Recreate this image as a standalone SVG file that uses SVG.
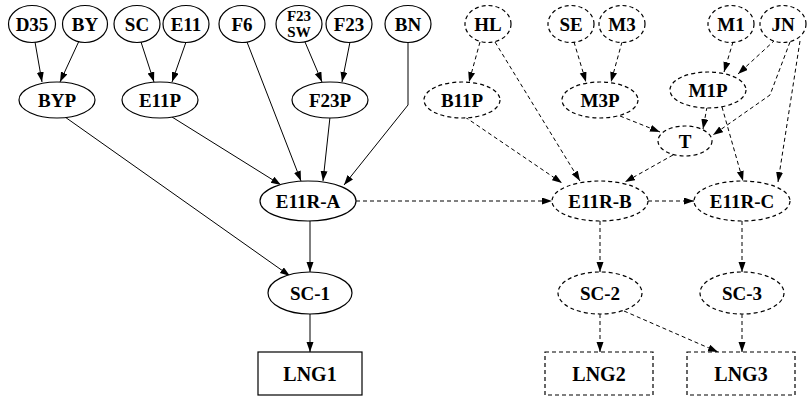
<svg xmlns="http://www.w3.org/2000/svg" width="810" height="401" viewBox="0 0 810 401">
<style>
.n ellipse,.n rect{fill:#fff;stroke:#000;stroke-width:1.2}
.d ellipse,.d rect{stroke-dasharray:4,3}
text{font-family:"Liberation Serif","Times New Roman",serif;font-weight:bold;font-size:19px;text-anchor:middle;fill:#000}
.e path{fill:none;stroke:#000;stroke-width:1}
.e .ds{stroke-dasharray:4,3}
</style>
<defs>
<marker id="a" markerUnits="userSpaceOnUse" markerWidth="10" markerHeight="8" refX="10" refY="3.5" orient="auto"><path d="M0,0 L10,3.5 L0,7 z" fill="#000"/></marker>
</defs>
<g class="e" id="edges">
<path d="M35,42 L42,82" marker-end="url(#a)"/>
<path d="M79,41 L60,82" marker-end="url(#a)"/>
<path d="M141,42 L154,82" marker-end="url(#a)"/>
<path d="M186,42 L172,82" marker-end="url(#a)"/>
<path d="M247,42 L301,181" marker-end="url(#a)"/>
<path d="M305,42 L322,82" marker-end="url(#a)"/>
<path d="M350,42 L342,82" marker-end="url(#a)"/>
<path d="M408,43 L408,105 L344,185" marker-end="url(#a)"/>
<path d="M65,117 L290,276" marker-end="url(#a)"/>
<path d="M172,117 L281,185" marker-end="url(#a)"/>
<path d="M330,117 L323,181" marker-end="url(#a)"/>
<path d="M310,221 L310,272" marker-end="url(#a)"/>
<path d="M310,314 L310,352" marker-end="url(#a)"/>
<path class="ds" d="M356,201 L552,201" marker-end="url(#a)"/>
<path class="ds" d="M480,42 L469,82" marker-end="url(#a)"/>
<path class="ds" d="M495,42 L580,181" marker-end="url(#a)"/>
<path class="ds" d="M465,117 L562,183" marker-end="url(#a)"/>
<path class="ds" d="M574,42 L586,82" marker-end="url(#a)"/>
<path class="ds" d="M622,42 L611,82" marker-end="url(#a)"/>
<path class="ds" d="M620,116 L660,132" marker-end="url(#a)"/>
<path class="ds" d="M673,155 L625,182" marker-end="url(#a)"/>
<path class="ds" d="M733,42 L724,72" marker-end="url(#a)"/>
<path class="ds" d="M775,40 L738,74" marker-end="url(#a)"/>
<path class="ds" d="M790,42 L770,95 L713,135" marker-end="url(#a)"/>
<path class="ds" d="M800,41 L778,182" marker-end="url(#a)"/>
<path class="ds" d="M707,107 L703,129" marker-end="url(#a)"/>
<path class="ds" d="M722,107 L743,181" marker-end="url(#a)"/>
<path class="ds" d="M648,201 L694,201" marker-end="url(#a)"/>
<path class="ds" d="M600,221 L600,272" marker-end="url(#a)"/>
<path class="ds" d="M742,221 L742,272" marker-end="url(#a)"/>
<path class="ds" d="M600,314 L600,352" marker-end="url(#a)"/>
<path class="ds" d="M624,311 L718,352" marker-end="url(#a)"/>
<path class="ds" d="M742,314 L742,352" marker-end="url(#a)"/>
</g>
<g id="D35" class="n"><ellipse cx="32" cy="24" rx="23.5" ry="18.5"/><text x="32" y="31">D35</text></g>
<g id="BY" class="n"><ellipse cx="85" cy="24" rx="22.5" ry="18.5"/><text x="85" y="31">BY</text></g>
<g id="SC" class="n"><ellipse cx="137" cy="24" rx="23" ry="18.5"/><text x="137" y="31">SC</text></g>
<g id="E11" class="n"><ellipse cx="186" cy="24" rx="23" ry="18.5"/><text x="186" y="31">E11</text></g>
<g id="F6" class="n"><ellipse cx="242" cy="24" rx="23" ry="18.5"/><text x="242" y="31">F6</text></g>
<g id="F23SW" class="n"><ellipse cx="299" cy="24" rx="23" ry="18.5"/><text x="299" y="21" style="font-size:15px">F23</text><text x="299" y="37" style="font-size:15px">SW</text></g>
<g id="F23" class="n"><ellipse cx="349" cy="24" rx="23" ry="18.5"/><text x="349" y="31">F23</text></g>
<g id="BN" class="n"><ellipse cx="408" cy="24" rx="23" ry="18.5"/><text x="408" y="31">BN</text></g>
<g id="HL" class="n d"><ellipse cx="488" cy="24" rx="23" ry="18.5"/><text x="488" y="31">HL</text></g>
<g id="SE" class="n d"><ellipse cx="571" cy="24" rx="23" ry="18.5"/><text x="571" y="31">SE</text></g>
<g id="M3" class="n d"><ellipse cx="622" cy="24" rx="23" ry="18.5"/><text x="622" y="31">M3</text></g>
<g id="M1" class="n d"><ellipse cx="731" cy="24" rx="23" ry="18.5"/><text x="731" y="31">M1</text></g>
<g id="JN" class="n d"><ellipse cx="783" cy="24" rx="23" ry="18.5"/><text x="783" y="31">JN</text></g>
<g id="BYP" class="n"><ellipse cx="57" cy="100" rx="38" ry="18"/><text x="57" y="107">BYP</text></g>
<g id="E11P" class="n"><ellipse cx="160" cy="100" rx="38" ry="18"/><text x="160" y="107">E11P</text></g>
<g id="F23P" class="n"><ellipse cx="330" cy="100" rx="38" ry="18"/><text x="330" y="107">F23P</text></g>
<g id="B11P" class="n d"><ellipse cx="462" cy="100" rx="38" ry="18"/><text x="462" y="107">B11P</text></g>
<g id="M3P" class="n d"><ellipse cx="600" cy="100" rx="38" ry="18"/><text x="600" y="107">M3P</text></g>
<g id="M1P" class="n d"><ellipse cx="708" cy="90" rx="38" ry="18"/><text x="708" y="97">M1P</text></g>
<g id="T" class="n d"><ellipse cx="685" cy="141" rx="27" ry="15"/><text x="685" y="148">T</text></g>
<g id="E11R-A" class="n"><ellipse cx="308" cy="201" rx="48" ry="20"/><text x="308" y="208">E11R-A</text></g>
<g id="E11R-B" class="n d"><ellipse cx="600" cy="201" rx="48" ry="20"/><text x="600" y="208">E11R-B</text></g>
<g id="E11R-C" class="n d"><ellipse cx="742" cy="201" rx="48" ry="20"/><text x="742" y="208">E11R-C</text></g>
<g id="SC-1" class="n"><ellipse cx="310" cy="293" rx="42" ry="21"/><text x="310" y="300">SC-1</text></g>
<g id="SC-2" class="n d"><ellipse cx="600" cy="293" rx="42" ry="21"/><text x="600" y="300">SC-2</text></g>
<g id="SC-3" class="n d"><ellipse cx="742" cy="293" rx="42" ry="21"/><text x="742" y="300">SC-3</text></g>
<g id="LNG1" class="n"><rect x="258" y="352" width="104" height="43"/><text x="310" y="381" style="font-size:20px">LNG1</text></g>
<g id="LNG2" class="n d"><rect x="545" y="352" width="108" height="43"/><text x="599" y="381" style="font-size:20px">LNG2</text></g>
<g id="LNG3" class="n d"><rect x="687" y="352" width="108" height="43"/><text x="741" y="381" style="font-size:20px">LNG3</text></g>
</svg>
